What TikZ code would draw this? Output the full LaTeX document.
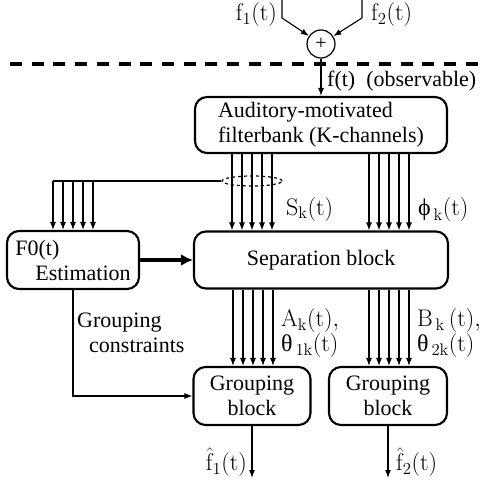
\RequirePackage{fix-cm}
\documentclass[tikz,border=0pt]{standalone}
\usepackage[no-math]{fontspec}
\setmainfont{Liberation Serif}
\usetikzlibrary{arrows.meta,shapes.geometric}

\begin{document}
\begin{tikzpicture}[x=1pt, y=-1pt,
	font=\fontsize{22}{25}\selectfont,
	>={Latex[length=8pt,width=6pt]},
	block/.style={draw, line width=2.1pt, rounded corners=12pt, inner sep=0pt},
	sig/.style={->, line width=1.1pt},
	lbl/.style={inner sep=0pt},
	mlbl/.style={inner sep=0pt, font=\fontsize{24}{25}\selectfont},
	]
	\useasboundingbox (0,0) rectangle (482,489);

	% inputs and adder
	\node[shape=circle, draw, line width=1.2pt, minimum size=28pt, inner sep=0pt, font=\fontsize{20}{20}\selectfont] (sum) at (321,44) {+};
	\coordinate (in1) at (282,0);
	\coordinate (k1)  at (282,18);
	\coordinate (in2) at (362,0);
	\coordinate (k2)  at (362,18);
	\node[mlbl, anchor=east] (f1in) at (277,15) {$\mathrm{f}_1(\mathrm{t})$};
	\node[mlbl, anchor=west] (f2in) at (371,15) {$\mathrm{f}_2(\mathrm{t})$};
	\draw[sig] (in1) -- (k1) -- (sum);
	\draw[sig] (in2) -- (k2) -- (sum);

	% separator line
	\coordinate (dl) at (10,64);
	\coordinate (dr) at (480,64);
	\draw[line width=4pt, dash pattern=on 12pt off 9.7pt] (dl) -- (dr);

	% blocks
	\node[block, minimum width=252pt, minimum height=56pt, align=left] (fb)  at (321,125) {Auditory-motivated\\filterbank (K-channels)};
	\node[block, minimum width=254pt, minimum height=57pt]             (sep) at (321,260) {Separation block};
	\node[block, minimum width=132pt, minimum height=58pt, align=left] (f0)  at (73,260)  {F0(t)\\\hspace*{20pt}Estimation};
	\node[block, minimum width=117pt, minimum height=58pt, align=center] (g1) at (252,396) {Grouping\\block};
	\node[block, minimum width=118pt, minimum height=58pt, align=center] (g2) at (388,396) {Grouping\\block};

	\draw[sig] (sum.south) -- (sum.south |- fb.north);
	\node[lbl, anchor=west] (obs) at (327,81) {f(t)\ \ (observable)};

	% filterbank -> separation
	\foreach \dx in {-89,-79,-69,-59,-49,48,58,68,78,88}
		\draw[sig] ([xshift=\dx pt]fb.south) -- ([xshift=\dx pt]sep.north);
	\node[mlbl, anchor=west] (sk)  at (286,209) {$\mathrm{S}_{\mathrm{k}}(\mathrm{t})$};
	\node[mlbl, anchor=west] (phk) at (418,209) {$\mbox{ϕ}_{\,\mathrm{k}}(\mathrm{t})$};

	% tap to F0 estimation
	\node[shape=ellipse, draw, dashed, line width=1.2pt, minimum width=60pt, minimum height=10pt, inner sep=0pt] (tap) at (252,181) {};
	\coordinate (bus) at (f0.north |- tap.west);
	\draw[line width=1.1pt] (tap.west) -- ([xshift=-20pt]bus);
	\foreach \dx in {-20,-10,0,10,20}
		\draw[sig] ([xshift=\dx pt]bus) -- ([xshift=\dx pt]f0.north);
	\draw[->, line width=3.5pt, >={Latex[length=12pt,width=12pt]}] (f0) -- (sep);

	% separation -> grouping
	\foreach \dx in {-88,-78,-68,-58,-48}
		\draw[sig] ([xshift=\dx pt]sep.south) coordinate (top) -- (top |- g1.north);
	\foreach \dx in {48,58,68,78,88}
		\draw[sig] ([xshift=\dx pt]sep.south) coordinate (top) -- (top |- g2.north);
	\node[mlbl, anchor=west, align=left] (ak) at (281,333) {$\mathrm{A}_{\mathrm{k}}(\mathrm{t}),$\\$\mbox{θ}_{\,\mathrm{1k}}(\mathrm{t})$};
	\node[mlbl, anchor=west, align=left] (bk) at (417,333) {$\mathrm{B}_{\,\mathrm{k}}\,(\mathrm{t}),$\\$\mbox{θ}_{\,\mathrm{2k}}(\mathrm{t})$};

	% grouping constraints
	\draw[sig] (f0.south) |- (g1.west);
	\node[lbl, anchor=west, align=left] (gc) at (77,333) {Grouping\\\hspace*{12pt}constraints};

	% outputs
	\coordinate (out1) at (252,478);
	\coordinate (out2) at (388,478);
	\draw[sig] (g1.south) -- (out1);
	\draw[sig] (g2.south) -- (out2);
	\node[mlbl, anchor=east] (f1out) at (247,462) {$\hat{\mathrm{f}}_1(\mathrm{t})$};
	\node[mlbl, anchor=west] (f2out) at (396,462) {$\hat{\mathrm{f}}_2(\mathrm{t})$};
\end{tikzpicture}
\end{document}
